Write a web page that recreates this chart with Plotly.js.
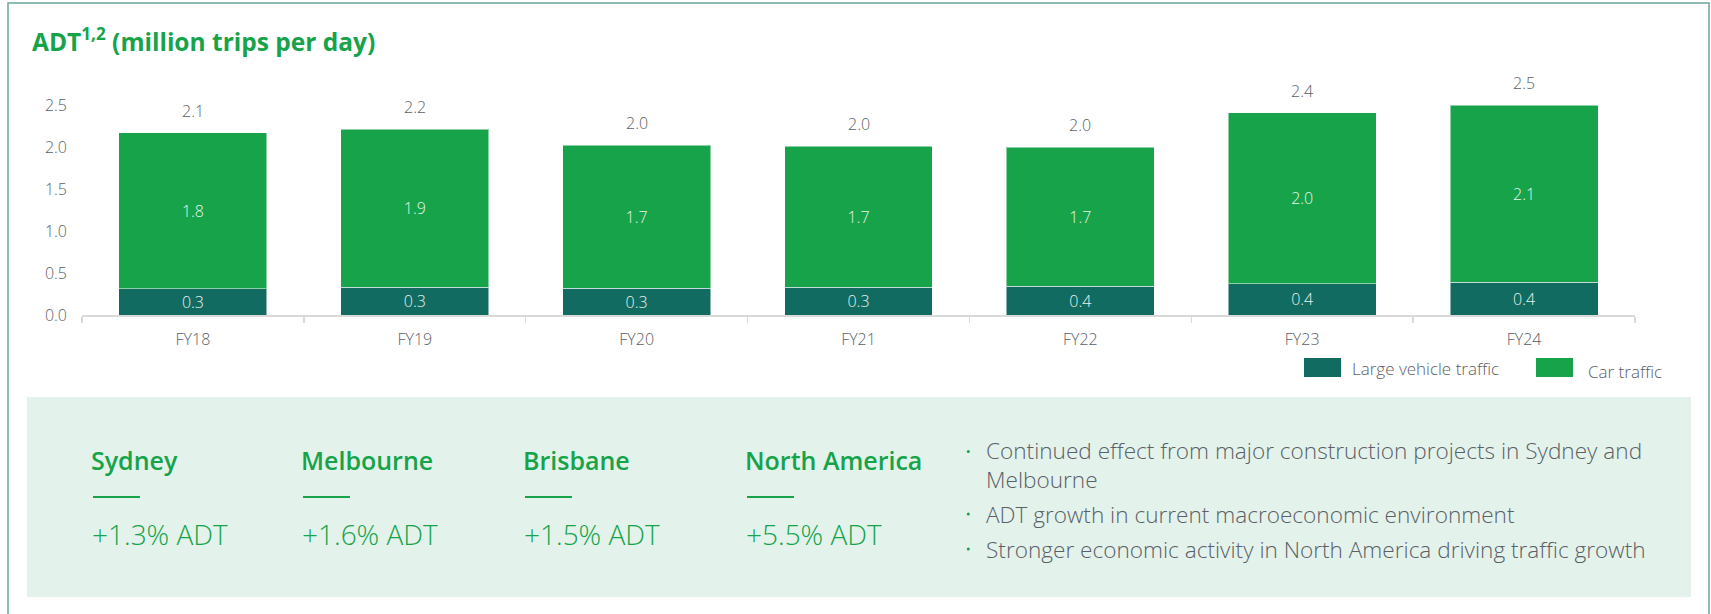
<!DOCTYPE html>
<html><head><meta charset="utf-8">
<script src="https://cdn.plot.ly/plotly-3.0.1.min.js"></script>
<style>html,body{margin:0;padding:0;background:#fff;overflow:hidden}</style>
</head><body><div id="chart" style="width:1711px;height:614px"></div>
<script>
// ---- data ----
const categories   = ['FY18','FY19','FY20','FY21','FY22','FY23','FY24'];
const largeVehicle = [0.31, 0.33, 0.32, 0.33, 0.34, 0.37, 0.39];
const carTraffic   = [1.86, 1.88, 1.70, 1.68, 1.66, 2.04, 2.11];
const largeLabels  = ['0.3','0.3','0.3','0.3','0.4','0.4','0.4'];
const carLabels    = ['1.8','1.9','1.7','1.7','1.7','2.0','2.1'];
const totalLabels  = ['2.1','2.2','2.0','2.0','2.0','2.4','2.5'];
const seriesNames  = ['Large vehicle traffic','Car traffic'];
const yTicks       = [0, 0.5, 1.0, 1.5, 2.0, 2.5];
const yTickLabels  = ['0.0','0.5','1.0','1.5','2.0','2.5'];
const cities       = ['Sydney','Melbourne','Brisbane','North America'];
const cityGrowth   = ['+1.3% ADT','+1.6% ADT','+1.5% ADT','+5.5% ADT'];
const bulletLines  = [
  'Continued effect from major construction projects in Sydney and<br>Melbourne',
  'ADT growth in current macroeconomic environment',
  'Stronger economic activity in North America driving traffic growth'
];
const chartTitle = 'ADT<sup>1,2</sup> (million trips per day)';

// ---- style ----
const GREEN = '#16a34a', TEAL = '#116b60', GRAY = '#5b6066', FONT = '"Open Sans", sans-serif';
const W = 1711, H = 614, ML = 82, MR = 76, MT = 105, MB = 299;
const PW = W - ML - MR, PH = H - MT - MB;
const px = v => (v - ML) / PW;
const py = v => (H - MB - v) / PH;

const traces = [
  {type:'bar', name:seriesNames[0], x:categories, y:largeVehicle, text:largeLabels,
   textposition:'inside', insidetextanchor:'middle', constraintext:'none', texttemplate:'%{text}',
   textfont:{family:FONT, size:16, color:'#e6f2ee', weight:300},
   marker:{color:TEAL, line:{color:'rgba(255,255,255,0.5)', width:1}}, hoverinfo:'skip', showlegend:false},
  {type:'bar', name:seriesNames[1], x:categories, y:carTraffic, text:carLabels,
   textposition:'inside', insidetextanchor:'middle', constraintext:'none', texttemplate:'%{text}',
   textfont:{family:FONT, size:16, color:'#e6f5ea', weight:300},
   marker:{color:GREEN, line:{color:'rgba(255,255,255,0.5)', width:1}}, hoverinfo:'skip', showlegend:false}
];

const annotations = [];
categories.forEach((c, i) => {
  annotations.push({x:c, y:largeVehicle[i] + carTraffic[i], xref:'x', yref:'y', text:totalLabels[i],
    showarrow:false, yanchor:'bottom', yshift:9, font:{family:FONT, size:16, color:GRAY, weight:300}});
});

const shapes = [];
// frame
shapes.push({type:'path', xref:'paper', yref:'paper',
  path:`M ${px(8)},${py(614)} L ${px(8)},${py(3)} L ${px(1709)},${py(3)} L ${px(1709)},${py(614)}`,
  line:{color:'#6aa79d', width:1.5}});
// bottom panel
shapes.push({type:'rect', xref:'paper', yref:'paper', x0:px(27), x1:px(1691), y0:py(597), y1:py(397),
  fillcolor:'#e3f3ec', line:{width:0}, layer:'below'});
// legend swatches
shapes.push({type:'rect', xref:'paper', yref:'paper', x0:px(1304), x1:px(1341), y0:py(377), y1:py(358), fillcolor:TEAL, line:{width:0}});
shapes.push({type:'rect', xref:'paper', yref:'paper', x0:px(1536), x1:px(1573), y0:py(377), y1:py(358), fillcolor:GREEN, line:{width:0}});
annotations.push({xref:'paper', yref:'paper', x:px(1350), y:py(368), xanchor:'left', yanchor:'middle', showarrow:false,
  text:seriesNames[0], font:{family:FONT, size:17, color:GRAY, weight:300}});
annotations.push({xref:'paper', yref:'paper', x:px(1586), y:py(371), xanchor:'left', yanchor:'middle', showarrow:false,
  text:seriesNames[1], font:{family:FONT, size:17, color:GRAY, weight:300}});

// city blocks
const cityX = [92, 302, 524, 746];
cities.forEach((c, i) => {
  annotations.push({xref:'paper', yref:'paper', x:px(cityX[i]-3), y:py(460), xanchor:'left', yanchor:'middle', showarrow:false,
    text:c, font:{family:FONT, size:25, color:GREEN, weight:600}});
  shapes.push({type:'line', xref:'paper', yref:'paper', x0:px(cityX[i]+1), x1:px(cityX[i]+48), y0:py(497), y1:py(497),
    line:{color:GREEN, width:2}});
  annotations.push({xref:'paper', yref:'paper', x:px(cityX[i]-2), y:py(534), xanchor:'left', yanchor:'middle', showarrow:false,
    text:cityGrowth[i], font:{family:FONT, size:28, color:GREEN, weight:300}});
});

// bullets
const bulletY = [464.5, 514, 549];
const dotY = [451.5, 514, 549];
bulletLines.forEach((t, i) => {
  shapes.push({type:'circle', xref:'paper', yref:'paper', x0:px(966.8), x1:px(969.8),
    y0:py(dotY[i] + 1.5), y1:py(dotY[i] - 1.5), fillcolor:GREEN, line:{width:0}});
  annotations.push({xref:'paper', yref:'paper', x:px(984), y:py(bulletY[i]), xanchor:'left', yanchor:'middle', align:'left',
    showarrow:false, text:t, font:{family:FONT, size:22.6, color:GRAY, weight:300}});
});

const layout = {
  width:W, height:H, paper_bgcolor:'#ffffff', plot_bgcolor:'rgba(0,0,0,0)',
  margin:{l:ML, r:MR, t:MT, b:MB, pad:0},
  barmode:'stack', bargap:0.333,
  font:{family:FONT, color:GRAY},
  title:{text:chartTitle, x:32/W, xref:'container', xanchor:'left', y:1-42/H, yref:'container', yanchor:'middle',
    font:{family:FONT, size:24.5, color:GREEN, weight:700}},
  xaxis:{type:'category', showline:true, linecolor:'#d9d9d9', linewidth:1.5, ticks:'outside', tickson:'boundaries',
    ticklen:6, tickcolor:'#d9d9d9', tickwidth:1.5, showgrid:false, zeroline:false, ticklabelstandoff:9,
    tickfont:{family:FONT, size:16, color:GRAY, weight:300}},
  yaxis:{range:[0,2.5], tickvals:yTicks, ticktext:yTickLabels, showgrid:false, zeroline:false, showline:false, ticks:'',
    ticklabelstandoff:14, tickfont:{family:FONT, size:16, color:GRAY, weight:300}},
  shapes:shapes, annotations:annotations, showlegend:false
};

Plotly.newPlot('chart', traces, layout, {displayModeBar:false, staticPlot:true});
</script></body></html>
